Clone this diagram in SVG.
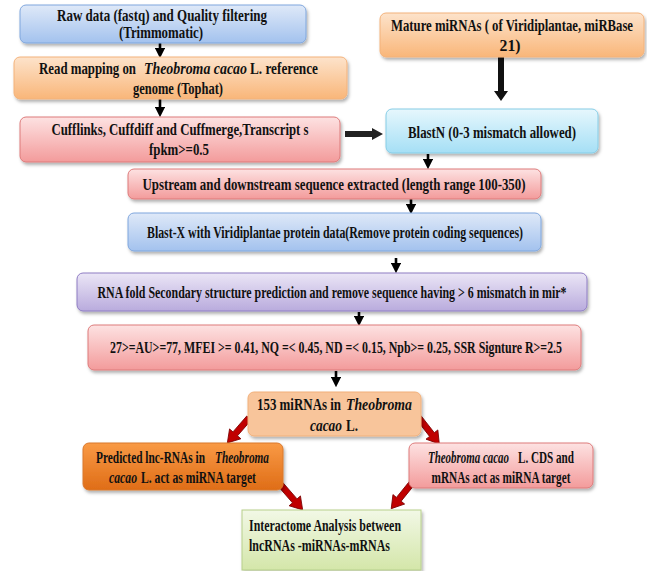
<svg xmlns="http://www.w3.org/2000/svg" width="647" height="571" viewBox="0 0 647 571">
<defs>
<linearGradient id="gBlue" x1="0" y1="0" x2="0" y2="1"><stop offset="0" stop-color="#dfe9f8"/><stop offset="1" stop-color="#a3c2ee"/></linearGradient>
<linearGradient id="gOrange" x1="0" y1="0" x2="0" y2="1"><stop offset="0" stop-color="#fde3cb"/><stop offset="1" stop-color="#f9b679"/></linearGradient>
<linearGradient id="gPink" x1="0" y1="0" x2="0" y2="1"><stop offset="0" stop-color="#fde2e2"/><stop offset="1" stop-color="#f39b9b"/></linearGradient>
<linearGradient id="gCyan" x1="0" y1="0" x2="0" y2="1"><stop offset="0" stop-color="#e6f7fd"/><stop offset="1" stop-color="#a5dff5"/></linearGradient>
<linearGradient id="gPurple" x1="0" y1="0" x2="0" y2="1"><stop offset="0" stop-color="#ebe6f6"/><stop offset="1" stop-color="#b9abdd"/></linearGradient>
<linearGradient id="gDark" x1="0" y1="0" x2="0" y2="1"><stop offset="0" stop-color="#f99a45"/><stop offset="1" stop-color="#df6d17"/></linearGradient>
<linearGradient id="gGreen" x1="0" y1="0" x2="0" y2="1"><stop offset="0" stop-color="#f2f8e6"/><stop offset="1" stop-color="#d4e6a9"/></linearGradient>
<filter id="sh" x="-10%" y="-20%" width="120%" height="150%"><feDropShadow dx="1.5" dy="2.5" stdDeviation="1.5" flood-color="#000" flood-opacity="0.3"/></filter>
<marker id="ah" markerWidth="4" markerHeight="4" refX="2" refY="2" orient="auto" markerUnits="strokeWidth"><path d="M0,0 L4,2 L0,4 Z" fill="#000"/></marker>
<path id="redArrow" d="M0,-3 L21,-3 L21,-7.5 L33,0 L21,7.5 L21,3 L0,3 Z" fill="#c00000" stroke="#7a0000" stroke-width="0.8"/>
</defs>
<style>
text{font-family:"Liberation Serif","Times New Roman",serif;font-weight:bold;font-size:16px;fill:#111;}
.c{text-anchor:middle;}
.i{font-style:italic;}
.box{filter:url(#sh);stroke-width:1;}
.blk{stroke:#000;stroke-width:2.6;fill:none;marker-end:url(#ah);}
</style>

<g id="connectors">
<line class="blk" x1="160" y1="43" x2="160" y2="53"/>
<line class="blk" x1="160" y1="99" x2="160" y2="112"/>
<polygon points="345,131 372,131 372,128 383,134 372,140 372,137 345,137" fill="#222"/>
<polygon points="498,57 504,57 504,91 508,91 501,101 494,91 498,91" fill="#111"/>
<line class="blk" x1="428" y1="154" x2="428" y2="164"/>
<line class="blk" x1="411" y1="199" x2="411" y2="209"/>
<line class="blk" x1="396" y1="258" x2="396" y2="268"/>
<line class="blk" x1="359" y1="312" x2="359" y2="321"/>
<line class="blk" x1="336" y1="371" x2="336" y2="382"/>
<use href="#redArrow" transform="translate(249,418) rotate(131)"/>
<use href="#redArrow" transform="translate(419,418) rotate(52)"/>
<use href="#redArrow" transform="translate(281,485) rotate(49)"/>
<use href="#redArrow" transform="translate(412,483) rotate(129)"/>
</g>

<g id="n1">
<rect class="box" x="20" y="5" width="286" height="38" rx="6" fill="url(#gBlue)" stroke="#7fa6dd"/>
<text class="c" transform="translate(162,21) scale(0.8,1)" textLength="262.5" lengthAdjust="spacingAndGlyphs">Raw data (fastq)  and Quality filtering</text>
<text class="c" transform="translate(161,38) scale(0.8,1)" textLength="105" lengthAdjust="spacingAndGlyphs">(Trimmomatic)</text>
</g>

<g id="n2">
<rect class="box" x="14" y="57" width="333" height="42" rx="6" fill="url(#gOrange)" stroke="#f3b27a"/>
<text transform="translate(39,74) scale(0.8,1)" textLength="121.25" lengthAdjust="spacingAndGlyphs">Read mapping on</text>
<text class="i" transform="translate(144,74) scale(0.8,1)" textLength="128.75" lengthAdjust="spacingAndGlyphs">Theobroma cacao</text>
<text transform="translate(250,74) scale(0.8,1)" textLength="85" lengthAdjust="spacingAndGlyphs">L. reference</text>
<text class="c" transform="translate(178,94) scale(0.8,1)" textLength="112.5" lengthAdjust="spacingAndGlyphs">genome (Tophat)</text>
</g>

<g id="n3">
<rect class="box" x="20" y="117" width="320" height="45" rx="6" fill="url(#gPink)" stroke="#dd7a7a"/>
<text class="c" transform="translate(180,135) scale(0.8,1)" textLength="321.25" lengthAdjust="spacingAndGlyphs">Cufflinks, Cuffdiff and Cuffmerge,Transcript s</text>
<text class="c" transform="translate(179,155) scale(0.8,1)" textLength="75" lengthAdjust="spacingAndGlyphs">fpkm&gt;=0.5</text>
</g>

<g id="n4">
<rect class="box" x="380" y="13" width="264" height="44" rx="6" fill="url(#gOrange)" stroke="#f3b27a"/>
<text class="c" transform="translate(512,31) scale(0.8,1)" textLength="302.5" lengthAdjust="spacingAndGlyphs">Mature miRNAs ( of Viridiplantae, miRBase</text>
<text class="c" transform="translate(510,51) scale(0.8,1)" textLength="26.25" lengthAdjust="spacingAndGlyphs">21)</text>
</g>

<g id="n5">
<rect class="box" x="386" y="109" width="212" height="44" rx="6" fill="url(#gCyan)" stroke="#86cde6"/>
<text class="c" transform="translate(492,138) scale(0.8,1)" textLength="210" lengthAdjust="spacingAndGlyphs">BlastN (0-3 mismatch allowed)</text>
</g>

<g id="n6">
<rect class="box" x="128" y="169" width="413" height="30" rx="6" fill="url(#gPink)" stroke="#dd7a7a"/>
<text class="c" transform="translate(334,190) scale(0.8,1)" textLength="478.75" lengthAdjust="spacingAndGlyphs">Upstream and downstream sequence extracted (length range 100-350)</text>
</g>

<g id="n7">
<rect class="box" x="128" y="213" width="413" height="38" rx="6" fill="url(#gBlue)" stroke="#7fa6dd"/>
<text class="c" transform="translate(335,238) scale(0.8,1)" textLength="470" lengthAdjust="spacingAndGlyphs">Blast-X with Viridiplantae protein data(Remove protein coding sequences)</text>
</g>

<g id="n8">
<rect class="box" x="77" y="273" width="510" height="38" rx="6" fill="url(#gPurple)" stroke="#8e7cc3"/>
<text class="c" transform="translate(332,298) scale(0.8,1)" textLength="586.25" lengthAdjust="spacingAndGlyphs">RNA fold Secondary structure prediction and remove  sequence having &gt; 6 mismatch  in mir*</text>
</g>

<g id="n9">
<rect class="box" x="88" y="325" width="493" height="45" rx="6" fill="url(#gPink)" stroke="#dd7a7a"/>
<text class="c" transform="translate(336,353) scale(0.8,1)" textLength="565" lengthAdjust="spacingAndGlyphs">27&gt;=AU&gt;=77, MFEI &gt;= 0.41, NQ =&lt; 0.45, ND =&lt; 0.15, Npb&gt;= 0.25, SSR Signture R&gt;=2.5</text>
</g>

<g id="n10">
<rect class="box" x="248" y="392" width="173" height="44" rx="6" fill="#f8c59b" stroke="#f1b07a"/>
<text transform="translate(257,410) scale(0.8,1)" textLength="105" lengthAdjust="spacingAndGlyphs">153 miRNAs in</text>
<text class="i" transform="translate(346,410) scale(0.8,1)" textLength="82.5" lengthAdjust="spacingAndGlyphs">Theobroma</text>
<text class="i" transform="translate(310,431) scale(0.8,1)" textLength="40" lengthAdjust="spacingAndGlyphs">cacao</text>
<text transform="translate(346,431) scale(0.8,1)" textLength="15" lengthAdjust="spacingAndGlyphs">L.</text>
</g>

<g id="n11">
<rect class="box" x="83" y="443" width="200" height="47" rx="6" fill="url(#gDark)" stroke="#d9782e"/>
<text transform="translate(96,463) scale(0.8,1)" textLength="136.25" lengthAdjust="spacingAndGlyphs">Predicted lnc-RNAs in</text>
<text class="i" transform="translate(215,463) scale(0.8,1)" textLength="67.5" lengthAdjust="spacingAndGlyphs">Theobroma</text>
<text class="i" transform="translate(109,483) scale(0.8,1)" textLength="35" lengthAdjust="spacingAndGlyphs">cacao</text>
<text transform="translate(141,483) scale(0.8,1)" textLength="143.75" lengthAdjust="spacingAndGlyphs">L. act as miRNA target</text>
</g>

<g id="n12">
<rect class="box" x="409" y="443" width="184" height="45" rx="6" fill="url(#gPink)" stroke="#dd7a7a"/>
<text class="i" transform="translate(428,463) scale(0.8,1)" textLength="101.25" lengthAdjust="spacingAndGlyphs">Theobroma cacao</text>
<text transform="translate(518,463) scale(0.8,1)" textLength="70" lengthAdjust="spacingAndGlyphs">L. CDS and</text>
<text class="c" transform="translate(501,483) scale(0.8,1)" textLength="173.75" lengthAdjust="spacingAndGlyphs">mRNAs  act as miRNA target</text>
</g>

<g id="n13">
<rect class="box" x="242" y="510" width="179" height="60" fill="url(#gGreen)" stroke="#b7d08c"/>
<text transform="translate(249,531) scale(0.8,1)" textLength="190" lengthAdjust="spacingAndGlyphs">Interactome Analysis between</text>
<text transform="translate(249,551) scale(0.8,1)" textLength="176.25" lengthAdjust="spacingAndGlyphs">lncRNAs -miRNAs-mRNAs</text>
</g>
</svg>
